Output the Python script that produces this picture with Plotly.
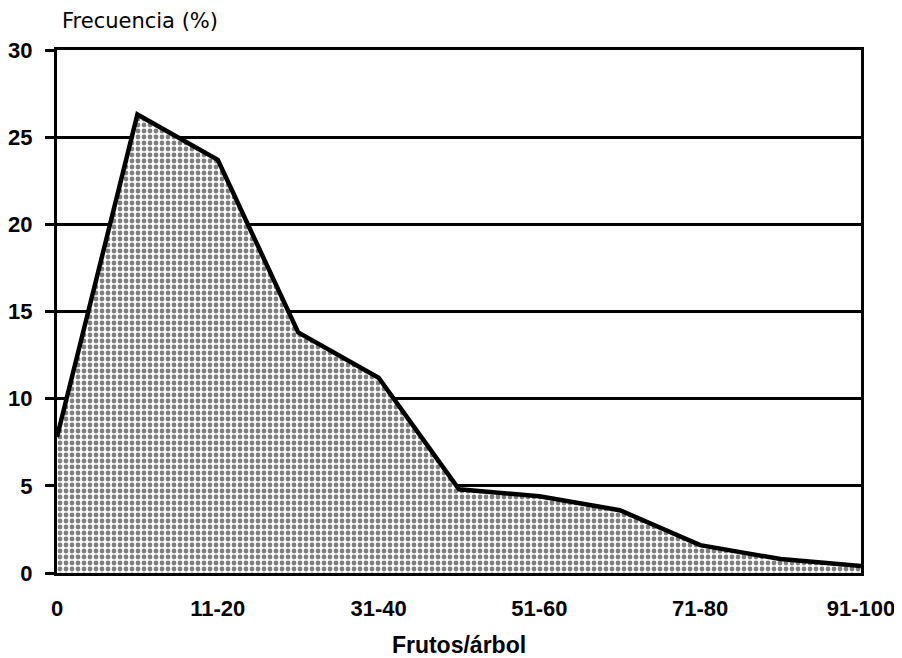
import plotly.graph_objects as go

categories = ["0", "1-10", "11-20", "21-30", "31-40", "41-50",
              "51-60", "61-70", "71-80", "81-90", "91-100"]
frecuencia = [7.8, 26.3, 23.7, 13.8, 11.2, 4.8, 4.4, 3.6, 1.6, 0.8, 0.4]
tick_labels = ["0", "11-20", "31-40", "51-60", "71-80", "91-100"]
y_ticks = [0, 5, 10, 15, 20, 25, 30]

tick_font = dict(family="Liberation Sans, Arial, sans-serif", size=22,
                 color="black", weight="bold")

fig = go.Figure()
fig.add_trace(go.Scatter(
    x=categories, y=frecuencia, mode="lines", fill="tozeroy",
    line=dict(color="black", width=4.5),
    fillcolor="white",
    fillpattern=dict(shape=".", fgcolor="black", bgcolor="white",
                     size=6, solidity=0.5),
    showlegend=False,
))

fig.update_layout(
    width=894, height=650,
    margin=dict(l=49, r=41, t=42, b=85),
    paper_bgcolor="white", plot_bgcolor="white",
    font=dict(family="Liberation Sans, Arial, sans-serif", size=22, color="black"),
    xaxis=dict(
        type="category", categoryorder="array", categoryarray=categories,
        range=[0, len(categories) - 1], automargin=False,
        tickmode="array", tickvals=tick_labels, ticktext=tick_labels,
        tickfont=tick_font,
        showgrid=False, zeroline=False,
        showline=True, linecolor="black", linewidth=3, mirror=True,
        ticks="", ticklabelstandoff=14,
        title=dict(text="<b>Frutos/árbol</b>",
                   font=dict(family="Liberation Sans, Arial, sans-serif", size=23),
                   standoff=18),
    ),
    yaxis=dict(
        range=[0, 30], tickmode="array", tickvals=y_ticks, automargin=False,
        tickfont=tick_font,
        showgrid=True, gridcolor="black", gridwidth=2.5,
        zeroline=False,
        showline=True, linecolor="black", linewidth=3, mirror=True,
        ticks="outside", ticklen=9, tickwidth=2.5, tickcolor="black",
        ticklabelstandoff=8,
    ),
    annotations=[dict(
        text="Frecuencia (%)", xref="paper", yref="paper", x=0, y=1,
        xanchor="left", yanchor="middle", xshift=3, yshift=29,
        showarrow=False,
        font=dict(family="DejaVu Sans, sans-serif", size=21, color="black"),
    )],
)

fig.write_html("out.html")
